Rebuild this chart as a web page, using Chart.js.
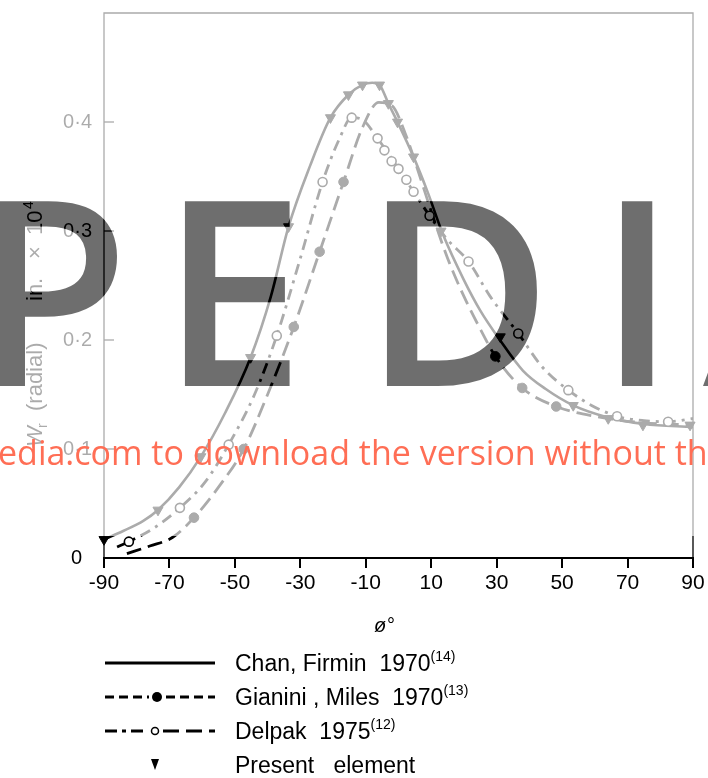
<!DOCTYPE html>
<html>
<head>
<meta charset="utf-8">
<script src="https://cdn.jsdelivr.net/npm/chart.js@4/dist/chart.umd.min.js"></script>
<style>
  html, body { margin: 0; padding: 0; background: #fff; }
  #wrap { position: relative; width: 708px; height: 778px; overflow: hidden; }
  #c { display: block; }
  #over { position: absolute; left: 0; top: 0; pointer-events: none; }
  #over text { font-family: "Liberation Sans", "DejaVu Sans", sans-serif; white-space: pre; }
  #over .wm { font-family: "Open Sans", sans-serif; font-weight: 600; }
</style>
</head>
<body>
<div id="wrap">
  <canvas id="c" width="708" height="778"></canvas>
  <svg id="over" width="708" height="778" viewBox="0 0 708 778">
    <defs>
      <g id="wm">
        <text class="wm" data-ch="P" y="386">P</text>
        <text class="wm" data-ch="E" y="386">E</text>
        <text class="wm" data-ch="D" y="386">D</text>
        <text class="wm" data-ch="I" y="386">I</text>
        <text class="wm" data-ch="A" y="386">A</text>
      </g>
      <mask id="fadeMask" maskUnits="userSpaceOnUse" x="0" y="0" width="708" height="778">
        <rect x="0" y="0" width="708" height="778" fill="#fff"/>
        <use href="#wm" fill="#000"/>
      </mask>
    </defs>

    <!-- y axis title -->
    <g fill="#000" font-size="22">
      <text transform="translate(42,447) rotate(-90)"><tspan x="0" font-style="italic">W</tspan><tspan x="19" dy="5" font-size="14">r</tspan><tspan x="36" dy="-5">(radial)</tspan><tspan x="146">in.</tspan><tspan x="188">×</tspan><tspan x="212">10</tspan><tspan x="238" dy="-9" font-size="14">4</tspan></text>
    </g>

    <!-- the upper band of the figure is printed faded -->
    <rect x="0" y="0" width="708" height="536" fill="#fff" fill-opacity="0.67" mask="url(#fadeMask)"/>

    <!-- x axis title -->
    <text x="374" y="632" font-size="20" font-style="italic" fill="#000">ø°</text>

    <!-- legend -->
    <g stroke="#000" stroke-width="3" fill="none">
      <line x1="105" y1="663" x2="215" y2="663"/>
      <line x1="105" y1="697" x2="149" y2="697" stroke-dasharray="9 5"/>
      <line x1="166" y1="697" x2="215" y2="697" stroke-dasharray="9 5"/>
      <line x1="105" y1="731" x2="147" y2="731" stroke-dasharray="12 5 4 5"/>
      <line x1="163" y1="731" x2="215" y2="731" stroke-dasharray="16 7"/>
    </g>
    <circle cx="157" cy="697" r="5" fill="#000"/>
    <circle cx="155" cy="731" r="3.5" fill="#fff" stroke="#000" stroke-width="1.5"/>
    <path d="M151 759 L159 759 L155 770 Z" fill="#000"/>
    <g fill="#000" font-size="23">
      <text x="235" y="671">Chan, Firmin  1970<tspan dy="-10" font-size="14">(14)</tspan></text>
      <text x="235" y="705">Gianini , Miles  1970<tspan dy="-10" font-size="14">(13)</tspan></text>
      <text x="235" y="739">Delpak  1975<tspan dy="-10" font-size="14">(12)</tspan></text>
      <text x="235" y="773">Present   element</text>
    </g>

    <!-- watermark -->
    <use href="#wm" fill="#000" fill-opacity="0.57"/>
    <text x="-2" y="465" font-size="34" fill="#ff6e55" style="font-family:'Open Sans',sans-serif">edia.com to download the version without the watermark</text>
  </svg>
</div>
<script>
// axis ticks
const xTicks = [-90, -70, -50, -30, -10, 10, 30, 50, 70, 90];
const yTicks = [0, 0.1, 0.2, 0.3, 0.4];

// Chan, Firmin 1970 (solid)
const chanX = [-90, -84, -78, -73.5, -67, -60.4, -53, -45.2, -39, -33.6, -27, -20.8, -15.3, -11, -8, -5.8, -3.1, -0.3, 4.6, 9, 13.7, 20, 25, 31, 38, 45, 53.4, 64, 75, 90];
const chanY = [0.017, 0.025, 0.034, 0.044, 0.065, 0.093, 0.133, 0.184, 0.24, 0.304, 0.36, 0.404, 0.425, 0.434, 0.436, 0.434, 0.417, 0.4, 0.368, 0.335, 0.296, 0.255, 0.227, 0.2, 0.172, 0.155, 0.14, 0.129, 0.123, 0.12];

// Gianini, Miles 1970 (dashed, filled dots)
const gianiniX = [-83, -76, -69, -62.5, -55, -47.3, -40, -32, -24.1, -16.8, -11, -6, -2, 2, 6, 10, 15, 20, 25, 29.6, 37.8, 48.2, 60, 75, 90];
const gianiniY = [0.004, 0.011, 0.019, 0.037, 0.065, 0.1, 0.15, 0.212, 0.281, 0.345, 0.395, 0.418, 0.415, 0.39, 0.355, 0.318, 0.275, 0.24, 0.21, 0.185, 0.156, 0.139, 0.13, 0.124, 0.122];
const gianiniDotX = [-62.5, -47.3, -32, -24.1, -16.8, 29.6, 37.8, 48.2];
const gianiniDotY = [0.037, 0.1, 0.212, 0.281, 0.345, 0.185, 0.156, 0.139];

// Delpak 1975 (dash-dot, open circles)
const delpakX = [-86, -82.4, -75, -66.8, -59, -51.9, -44, -37.2, -30, -23.2, -18, -14.3, -11, -6.4, 0, 4.6, 9.5, 15, 21.4, 28, 36.6, 44, 51.9, 59, 66.8, 75, 82.4, 90];
const delpakY = [0.01, 0.015, 0.027, 0.046, 0.07, 0.104, 0.15, 0.204, 0.275, 0.345, 0.385, 0.404, 0.402, 0.385, 0.357, 0.336, 0.314, 0.292, 0.272, 0.24, 0.206, 0.175, 0.154, 0.14, 0.13, 0.126, 0.125, 0.128];
const delpakRingX = [-82.4, -66.8, -51.9, -37.2, -23.2, -14.3, -6.4, -4.3, -2.1, 0, 2.4, 4.6, 9.5, 21.4, 36.6, 51.9, 66.8, 82.4];
const delpakRingY = [0.015, 0.046, 0.104, 0.204, 0.345, 0.404, 0.385, 0.374, 0.364, 0.357, 0.347, 0.336, 0.314, 0.272, 0.206, 0.154, 0.13, 0.125];

// Present element (triangles)
const presentX = [-90, -73.5, -60.4, -45.2, -33.6, -20.8, -15.3, -11, -5.8, -3.1, -0.3, 4.6, 13, 31.1, 53.4, 64.1, 74.7, 89.1];
const presentY = [0.017, 0.044, 0.093, 0.184, 0.304, 0.404, 0.425, 0.434, 0.434, 0.417, 0.4, 0.368, 0.3, 0.203, 0.14, 0.128, 0.122, 0.122];

const INK = '#000000';
const FONT = '"Liberation Sans", "DejaVu Sans", sans-serif';

const pts = (xs, ys) => xs.map((x, i) => ({ x: x, y: ys[i] }));

const lineBase = {
  showLine: true,
  pointRadius: 0,
  borderWidth: 2.8,
  fill: false,
  cubicInterpolationMode: 'monotone',
  borderColor: INK,
  borderCapStyle: 'butt'
};

// frame: thin left/top/right edges and inward y ticks
const framePlugin = {
  id: 'frame',
  beforeDatasetsDraw(chart) {
    const { ctx, chartArea: a, scales } = chart;
    ctx.save();
    ctx.strokeStyle = INK;
    ctx.lineWidth = 1.3;
    ctx.beginPath();
    ctx.moveTo(a.left, a.bottom); ctx.lineTo(a.left, a.top); ctx.lineTo(a.right, a.top); ctx.lineTo(a.right, a.bottom);
    ctx.stroke();
    yTicks.forEach(v => {
      if (v === 0) return;
      const y = scales.y.getPixelForValue(v);
      ctx.beginPath();
      ctx.moveTo(a.left, y); ctx.lineTo(a.left + 10, y);
      ctx.stroke();
    });
    ctx.restore();
  }
};

new Chart(document.getElementById('c'), {
  type: 'scatter',
  data: {
    datasets: [
      {
        label: 'Present element',
        data: pts(presentX, presentY),
        showLine: false,
        pointStyle: 'triangle',
        rotation: 180,
        pointRadius: 5.8,
        pointBackgroundColor: INK,
        pointBorderColor: INK,
        pointBorderWidth: 1,
        clip: false
      },
      {
        label: 'Delpak 1975 markers',
        data: pts(delpakRingX, delpakRingY),
        showLine: false,
        pointStyle: 'circle',
        pointRadius: 4.5,
        pointBackgroundColor: '#ffffff',
        pointBorderColor: INK,
        pointBorderWidth: 1.6,
        clip: false
      },
      {
        label: 'Gianini, Miles 1970 markers',
        data: pts(gianiniDotX, gianiniDotY),
        showLine: false,
        pointStyle: 'circle',
        pointRadius: 4.8,
        pointBackgroundColor: INK,
        pointBorderColor: INK,
        pointBorderWidth: 1,
        clip: false
      },
      Object.assign({}, lineBase, {
        label: 'Chan, Firmin 1970',
        data: pts(chanX, chanY),
        borderWidth: 2.6
      }),
      Object.assign({}, lineBase, {
        label: 'Gianini, Miles 1970',
        data: pts(gianiniX, gianiniY),
        borderDash: [15, 7]
      }),
      Object.assign({}, lineBase, {
        label: 'Delpak 1975',
        data: pts(delpakX, delpakY),
        borderDash: [11, 6, 3, 6]
      })
    ]
  },
  options: {
    responsive: false,
    devicePixelRatio: 1,
    animation: false,
    events: [],
    layout: { padding: { top: 13, right: 15, left: 0, bottom: 0 } },
    plugins: { legend: { display: false }, tooltip: { enabled: false } },
    scales: {
      x: {
        type: 'linear',
        min: -90,
        max: 90,
        afterBuildTicks: (s) => { s.ticks = xTicks.map(v => ({ value: v })); },
        afterFit: (s) => { s.height = 220; s.paddingLeft = 0; s.paddingRight = 0; },
        grid: { drawOnChartArea: false, drawTicks: true, tickLength: 10, color: INK, lineWidth: 2 },
        border: { display: true, color: INK, width: 2 },
        ticks: {
          color: INK,
          font: { family: FONT, size: 21 },
          padding: 3,
          maxRotation: 0,
          autoSkip: false,
          callback: (v) => String(v)
        }
      },
      y: {
        type: 'linear',
        min: 0,
        max: 0.5,
        afterBuildTicks: (s) => { s.ticks = yTicks.map(v => ({ value: v })); },
        afterFit: (s) => { s.width = 104; s.paddingTop = 0; s.paddingBottom = 0; },
        grid: { drawOnChartArea: false, drawTicks: false },
        border: { display: false },
        ticks: {
          color: INK,
          font: { family: FONT, size: 20 },
          padding: 12,
          autoSkip: false,
          callback: (v) => v === 0 ? '0\u2002' : v.toFixed(1).replace('.', '·')
        }
      }
    }
  },
  plugins: [framePlugin]
});

// place the large overlay letters by their ink edges
(function placeLetters() {
  const mc = document.createElement('canvas').getContext('2d');
  const probe = 260;
  mc.font = '600 ' + probe + 'px "Open Sans", sans-serif';
  const capH = mc.measureText('E').actualBoundingBoxAscent || probe * 0.714;
  const size = probe * 186 / capH;
  mc.font = '600 ' + size + 'px "Open Sans", sans-serif';
  const edges = { P: { right: 120 }, E: { left: 185 }, D: { left: 387 }, I: { left: 622 }, A: { left: 703 } };
  document.querySelectorAll('#wm text').forEach(t => {
    const ch = t.getAttribute('data-ch');
    const m = mc.measureText(ch);
    const e = edges[ch];
    let x;
    if (e.right !== undefined) x = e.right - m.actualBoundingBoxRight;
    else x = e.left + m.actualBoundingBoxLeft;
    t.setAttribute('x', x.toFixed(1));
    t.setAttribute('font-size', size.toFixed(1));
  });
})();
</script>
</body>
</html>
